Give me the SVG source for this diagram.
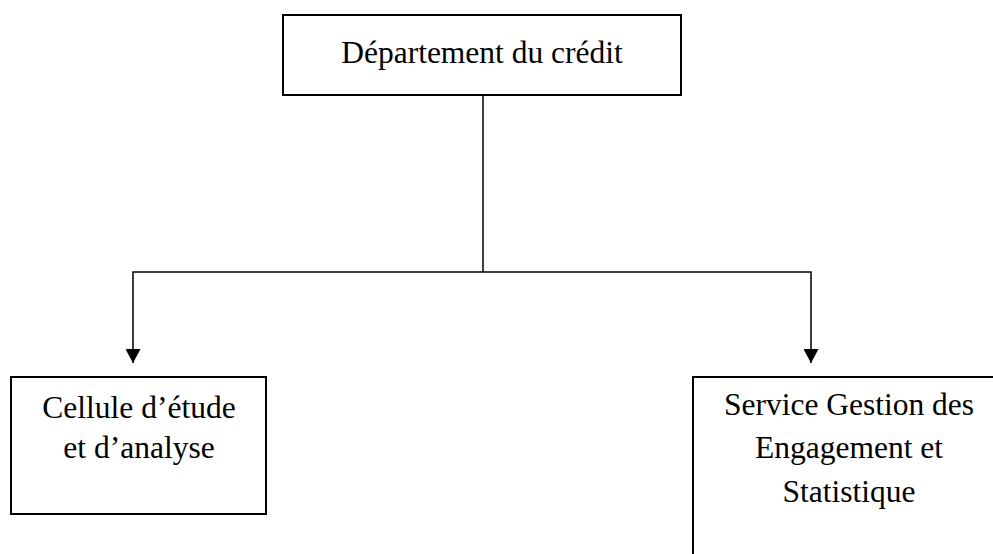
<svg xmlns="http://www.w3.org/2000/svg" width="993" height="554" viewBox="0 0 993 554">
<defs>
<style>
.box{fill:#fff;stroke:#000;stroke-width:2}
.ln{fill:none;stroke:#000;stroke-width:1.5}
.t{font-family:"Liberation Serif","Times New Roman",serif;font-size:31.5px;fill:#000;text-anchor:middle}
</style>
<marker id="ah" markerWidth="16" markerHeight="15" refX="15" refY="8" orient="auto" markerUnits="userSpaceOnUse" viewBox="0 0 15 16">
<path d="M0,0 L15,8 L0,16 Z" fill="#000"/>
</marker>
</defs>
<rect width="993" height="554" fill="#fff"/>
<g id="connectors">
<path class="ln" d="M483,95 V272"/>
<path class="ln" d="M483,272 H133 V363" marker-end="url(#ah)"/>
<path class="ln" d="M483,272 H811 V363" marker-end="url(#ah)"/>
</g>
<g id="node-departement">
<rect class="box" x="283" y="15" width="398" height="80"/>
<text class="t" x="482" y="63">Département du crédit</text>
</g>
<g id="node-cellule">
<rect class="box" x="11" y="377" width="255" height="137"/>
<text class="t" x="139" y="418">Cellule d’étude</text>
<text class="t" x="139" y="458">et d’analyse</text>
</g>
<g id="node-service">
<rect class="box" x="693" y="377" width="320" height="200"/>
<text class="t" x="849" y="415">Service Gestion des</text>
<text class="t" x="849" y="458">Engagement et</text>
<text class="t" x="849" y="502">Statistique</text>
</g>
</svg>
